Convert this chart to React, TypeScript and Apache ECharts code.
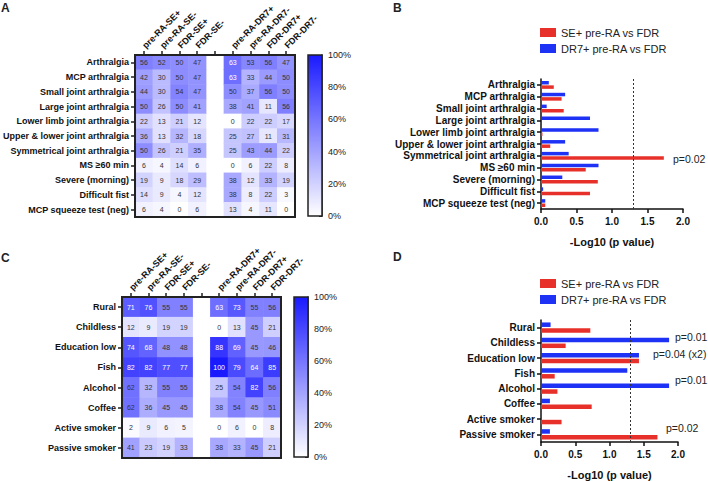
import React, { useEffect, useRef } from 'react';
import * as echarts from 'echarts';

const FONT = '"Liberation Sans", Arial, Helvetica, sans-serif';
const INK = '#111';
const RED = '#e8302a';
const BLUE = '#1e32f5';
const HEAT_LOW = '#ffffff';
const HEAT_HIGH = '#1a1aff';

// Heatmap columns (empty string = visual gap column)
const heatColumns = ['pre-RA-SE+', 'pre-RA-SE-', 'FDR-SE+', 'FDR-SE-', '', 'pre-RA-DR7+', 'pre-RA-DR7-', 'FDR-DR7+', 'FDR-DR7-'];

// Panel A
const rowsA = [
  'Arthralgia', 'MCP arthralgia', 'Small joint arthralgia', 'Large joint arthralgia',
  'Lower limb joint arthralgia', 'Upper & lower joint arthralgia', 'Symmetrical joint arthralgia',
  'MS ≥60 min', 'Severe (morning)', 'Difficult fist', 'MCP squeeze test (neg)',
];
const heatA = [
  [56, 52, 50, 47, 63, 53, 56, 47],
  [42, 30, 50, 47, 63, 33, 44, 50],
  [44, 30, 54, 47, 50, 37, 56, 50],
  [50, 26, 50, 41, 38, 41, 11, 56],
  [22, 13, 21, 12, 0, 22, 22, 17],
  [36, 13, 32, 18, 25, 27, 11, 31],
  [50, 26, 21, 35, 25, 43, 44, 22],
  [6, 4, 14, 6, 0, 6, 22, 8],
  [19, 9, 18, 29, 38, 12, 33, 19],
  [14, 9, 4, 12, 38, 8, 22, 3],
  [6, 4, 0, 6, 13, 4, 11, 0],
];

// Panel C
const rowsC = ['Rural', 'Childless', 'Education low', 'Fish', 'Alcohol', 'Coffee', 'Active smoker', 'Passive smoker'];
const heatC = [
  [71, 76, 55, 55, 63, 73, 55, 56],
  [12, 9, 19, 19, 0, 13, 45, 21],
  [74, 68, 48, 48, 88, 69, 45, 46],
  [82, 82, 77, 77, 100, 79, 64, 85],
  [62, 32, 55, 55, 25, 54, 82, 56],
  [62, 36, 45, 45, 38, 54, 45, 51],
  [2, 9, 6, 5, 0, 6, 0, 8],
  [41, 23, 19, 33, 38, 33, 45, 21],
];

// Panel B (-log10 p)
const rowsB = rowsA;
const seB = [0.18, 0.29, 0.32, 0.0, 0.02, 0.13, 1.73, 0.63, 0.80, 0.69, 0.06];
const dr7B = [0.11, 0.34, 0.08, 0.69, 0.81, 0.34, 0.39, 0.81, 0.30, 0.03, 0.06];

// Panel D (-log10 p)
const rowsD = rowsC;
const seD = [0.72, 0.36, 1.43, 0.20, 0.24, 0.74, 0.30, 1.70];
const dr7D = [0.14, 1.87, 1.43, 1.26, 1.87, 0.13, 0.0, 0.13];

const SE_NAME = 'SE+ pre-RA vs FDR';
const DR_NAME = 'DR7+ pre-RA vs FDR';
const THRESHOLD = 1.3;

function heatData(m: number[][]) {
  const out: any[] = [];
  m.forEach((row, r) => {
    row.forEach((v, c) => {
      const col = c < 4 ? c : c + 1;
      out.push({ value: [col, r, v], label: { color: v >= 63 ? '#ffffff' : '#333333' } });
    });
  });
  return out;
}

function heatXAxis(gridIndex: number) {
  return {
    type: 'category', gridIndex, data: heatColumns, position: 'top',
    axisLine: { show: true, lineStyle: { color: '#222', width: 2 } },
    axisTick: { show: true, alignWithLabel: true, interval: 0, length: 4, lineStyle: { color: '#222', width: 1.5 } },
    axisLabel: { rotate: -45, interval: 0, fontSize: 9, fontWeight: 'bold', color: INK, fontFamily: FONT, margin: 8 },
    splitLine: { show: false },
  };
}
function heatYAxis(gridIndex: number, rows: string[]) {
  return {
    type: 'category', gridIndex, data: rows, inverse: true,
    axisLine: { show: true, lineStyle: { color: '#222', width: 2 } },
    axisTick: { show: true, alignWithLabel: true, interval: 0, length: 4, lineStyle: { color: '#222', width: 1.5 } },
    axisLabel: { interval: 0, fontSize: 9, fontWeight: 'bold', color: INK, fontFamily: FONT, margin: 6 },
    splitLine: { show: false },
  };
}
function cbXAxis(gridIndex: number) {
  return { type: 'category', gridIndex, data: [''], show: false };
}
function cbYAxis(gridIndex: number) {
  return {
    type: 'value', gridIndex, min: 0, max: 100, interval: 20, position: 'right',
    axisLine: { show: true, lineStyle: { color: '#222', width: 1.5 } },
    axisTick: { show: true, inside: true, length: 3, lineStyle: { color: '#222', width: 1 } },
    axisLabel: { formatter: '{value}%', fontSize: 9, color: '#222', fontFamily: FONT, margin: 6 },
    splitLine: { show: false },
  };
}
function barXAxis(gridIndex: number) {
  return {
    type: 'value', gridIndex, min: 0, max: 2, interval: 0.5,
    axisLine: { show: true, lineStyle: { color: '#111', width: 1.5 } },
    axisTick: { show: true, length: 4, lineStyle: { color: '#111', width: 1.5 } },
    axisLabel: { formatter: (v: number) => v.toFixed(1), fontSize: 10, fontWeight: 'bold', color: INK, fontFamily: FONT, margin: 7 },
    splitLine: { show: false },
    name: '-Log10 (p value)', nameLocation: 'middle', nameGap: 27,
    nameTextStyle: { fontSize: 11, fontWeight: 'bold', color: INK, fontFamily: FONT },
  };
}
function barYAxis(gridIndex: number, rows: string[]) {
  return {
    type: 'category', gridIndex, data: rows, inverse: true,
    axisLine: { show: true, lineStyle: { color: '#111', width: 1.5 } },
    axisTick: { show: true, alignWithLabel: true, interval: 0, length: 4, lineStyle: { color: '#111', width: 1.5 } },
    axisLabel: { interval: 0, fontSize: 10, fontWeight: 'bold', color: INK, fontFamily: FONT, margin: 6 },
    splitLine: { show: false },
  };
}
function colorbarSeries(idx: number) {
  return {
    type: 'bar', xAxisIndex: idx, yAxisIndex: idx, data: [100], barWidth: '100%', silent: true,
    label: { show: false },
    itemStyle: {
      color: new echarts.graphic.LinearGradient(0, 0, 0, 1, [
        { offset: 0, color: HEAT_HIGH }, { offset: 1, color: HEAT_LOW },
      ]),
    },
  };
}
function legendAt(top: number) {
  return {
    orient: 'vertical', left: 535, top, icon: 'rect', itemWidth: 16, itemHeight: 9, itemGap: 5,
    data: [SE_NAME, DR_NAME],
    textStyle: { fontSize: 11, color: '#222', fontFamily: FONT },
  };
}
function dashLine() {
  return {
    symbol: 'none', silent: true, label: { show: false },
    lineStyle: { type: [2, 2], color: '#333', width: 1 },
    data: [{ xAxis: THRESHOLD }],
  };
}
function txt(text: string, x: number, y: number, size: number, weight = 'normal') {
  return {
    type: 'text', x, y, silent: true,
    style: { text, font: `${weight} ${size}px ${FONT}`, fill: '#222', verticalAlign: 'middle' },
  };
}

export default function App() {
  const ref = useRef<HTMLDivElement>(null);
  useEffect(() => {
    const chart = echarts.init(ref.current!, null, { renderer: 'svg' });
    const heatLabel = { show: true, fontSize: 7, fontFamily: FONT, color: '#333333' };
    const option: any = {
      animation: false,
      backgroundColor: '#ffffff',
      textStyle: { fontFamily: FONT },
      grid: [
        { left: 134, top: 55, width: 161, height: 162, show: true, borderColor: '#222', borderWidth: 2, z: 5 },
        { left: 308, top: 55, width: 14, height: 161, show: true, borderColor: '#222', borderWidth: 1.5, z: 5 },
        { left: 541, top: 79, width: 142, height: 130 },
        { left: 122, top: 297, width: 159, height: 161, show: true, borderColor: '#222', borderWidth: 2, z: 5 },
        { left: 294, top: 297, width: 14, height: 160, show: true, borderColor: '#222', borderWidth: 1.5, z: 5 },
        { left: 541, top: 320, width: 137, height: 127 },
      ],
      xAxis: [heatXAxis(0), cbXAxis(1), barXAxis(2), heatXAxis(3), cbXAxis(4), barXAxis(5)],
      yAxis: [heatYAxis(0, rowsA), cbYAxis(1), barYAxis(2, rowsB), heatYAxis(3, rowsC), cbYAxis(4), barYAxis(5, rowsD)],
      visualMap: [{
        type: 'continuous', show: false, min: 0, max: 100, seriesIndex: [0, 4], dimension: 2,
        inRange: { color: [HEAT_LOW, HEAT_HIGH] },
      }],
      legend: [legendAt(22), legendAt(273)],
      series: [
        { type: 'heatmap', xAxisIndex: 0, yAxisIndex: 0, data: heatData(heatA), label: heatLabel, emphasis: { disabled: true } },
        colorbarSeries(1),
        { type: 'bar', name: DR_NAME, xAxisIndex: 2, yAxisIndex: 2, data: dr7B, barWidth: 3.5, barGap: '25%', itemStyle: { color: BLUE }, markLine: dashLine() },
        { type: 'bar', name: SE_NAME, xAxisIndex: 2, yAxisIndex: 2, data: seB, barWidth: 3.5, barGap: '25%', itemStyle: { color: RED } },
        { type: 'heatmap', xAxisIndex: 3, yAxisIndex: 3, data: heatData(heatC), label: heatLabel, emphasis: { disabled: true } },
        colorbarSeries(4),
        { type: 'bar', name: DR_NAME, xAxisIndex: 5, yAxisIndex: 5, data: dr7D, barWidth: 4.5, barGap: '30%', itemStyle: { color: BLUE }, markLine: dashLine() },
        { type: 'bar', name: SE_NAME, xAxisIndex: 5, yAxisIndex: 5, data: seD, barWidth: 4.5, barGap: '30%', itemStyle: { color: RED } },
      ],
      graphic: [
        txt('A', 1, 8, 12, 'bold'),
        txt('B', 393, 8, 12, 'bold'),
        txt('C', 1, 258, 12, 'bold'),
        txt('D', 393, 257, 12, 'bold'),
        txt('p=0.02', 673, 159, 10.5),
        txt('p=0.01', 675, 337, 10.5),
        txt('p=0.04 (x2)', 653, 354, 10.5),
        txt('p=0.01', 675, 380, 10.5),
        txt('p=0.02', 666, 428, 10.5),
      ],
    };
    chart.setOption(option);
    return () => chart.dispose();
  }, []);
  return <div ref={ref} style={{ position: 'absolute', left: 0, top: 0, width: 708, height: 481, background: '#fff' }} />;
}
